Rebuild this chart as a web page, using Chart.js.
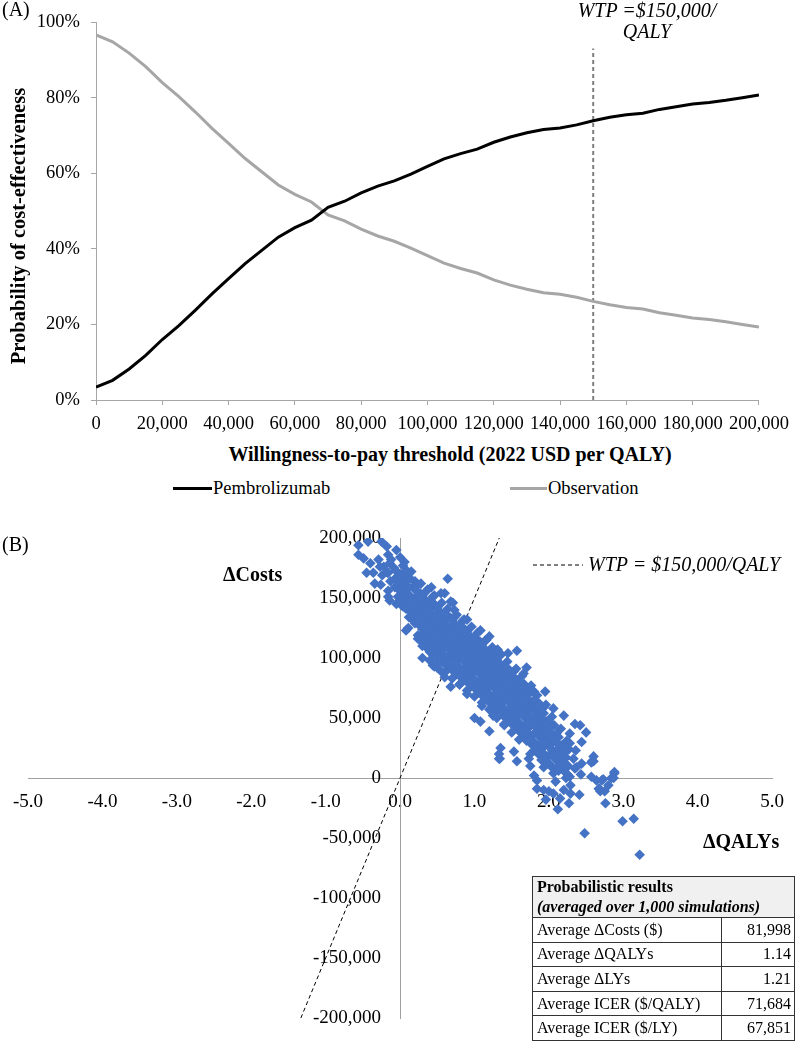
<!DOCTYPE html>
<html>
<head>
<meta charset="utf-8">
<script src="https://cdn.jsdelivr.net/npm/chart.js@4"></script>
<style>
  html, body { margin: 0; padding: 0; background: #fff; overflow: hidden; }
  body { width: 797px; height: 1041px; position: relative; font-family: 'Liberation Serif', 'Times New Roman', serif; color: #000; }
  canvas { position: absolute; left: 0; }
  .lbl { position: absolute; white-space: nowrap; line-height: 23px; }
  .bold { font-weight: bold; }
  .ital { font-style: italic; }
  #psaTable { position: absolute; left: 532px; top: 876px; width: 263px; border-collapse: collapse; font-size: 16px; }
  #psaTable td { border: 1px solid #333; padding: 0 3px 0 4px; height: 23.6px; line-height: 20px; }
  #psaTable td.num { text-align: right; }
  #psaTable td.head { background: #f0f0f0; height: 39px; font-weight: bold; }
</style>
</head>
<body>
<canvas id="ceac" width="797" height="440" style="top:0"></canvas>
<canvas id="plane" width="797" height="521" style="top:520px"></canvas>

<div class="lbl" style="left:2px;top:-2px;font-size:20px">(A)</div>
<div class="lbl ital" style="left:547px;top:0;width:200px;text-align:center;font-size:20px;line-height:21px">WTP =$150,000/<br>QALY</div>
<div class="lbl bold" style="left:0;top:443px;width:900px;text-align:center;font-size:20px">Willingness-to-pay threshold (2022 USD per QALY)</div>
<div class="lbl bold" style="left:18px;top:226px;font-size:20.5px;transform:translate(-50%,-50%) rotate(-90deg)">Probability of cost-effectiveness</div>
<div style="position:absolute;left:173px;top:487px;width:39px;height:3px;background:#000"></div>
<div class="lbl" style="left:213px;top:477px;font-size:18.5px">Pembrolizumab</div>
<div style="position:absolute;left:510px;top:487px;width:37px;height:3px;background:#a6a6a6"></div>
<div class="lbl" style="left:548px;top:477px;font-size:18.5px">Observation</div>

<div class="lbl" style="left:2px;top:533px;font-size:20px">(B)</div>
<div class="lbl bold" style="left:223px;top:563px;font-size:20px">ΔCosts</div>
<svg style="position:absolute;left:533px;top:560px" width="50" height="10"><line x1="0" y1="5" x2="50" y2="5" stroke="#000" stroke-width="1" stroke-dasharray="4,3"/></svg>
<div class="lbl ital" style="left:588px;top:553px;font-size:20px">WTP = $150,000/QALY</div>
<div class="lbl bold" style="left:703px;top:830px;font-size:20px">ΔQALYs</div>

<table id="psaTable">
  <tr><td class="head" colspan="2">Probabilistic results<br><i>(averaged over 1,000 simulations)</i></td></tr>
</table>

<script>
// ---- panel A: acceptability curves ----
const wtpValues = [0, 5000, 10000, 15000, 20000, 25000, 30000, 35000, 40000, 45000,
  50000, 55000, 60000, 65000, 70000, 75000, 80000, 85000, 90000, 95000,
  100000, 105000, 110000, 115000, 120000, 125000, 130000, 135000, 140000, 145000,
  150000, 155000, 160000, 165000, 170000, 175000, 180000, 185000, 190000, 195000, 200000];
const pembrolizumabPct = [3.4, 5.2, 8.2, 11.8, 16.0, 19.7, 23.8, 28.1, 32.1, 36.1,
  39.6, 43.1, 45.6, 47.6, 51.0, 52.6, 54.8, 56.6, 58.0, 59.8,
  61.8, 63.8, 65.2, 66.4, 68.2, 69.6, 70.7, 71.6, 72.0, 72.8,
  73.9, 74.8, 75.5, 75.9, 76.9, 77.6, 78.3, 78.7, 79.3, 80.0, 80.7];
const observationPct = [96.6, 94.8, 91.8, 88.2, 84.0, 80.3, 76.2, 71.9, 67.9, 63.9,
  60.4, 56.9, 54.4, 52.4, 49.0, 47.4, 45.2, 43.4, 42.0, 40.2,
  38.2, 36.2, 34.8, 33.6, 31.8, 30.4, 29.3, 28.4, 28.0, 27.2,
  26.1, 25.2, 24.5, 24.1, 23.1, 22.4, 21.7, 21.3, 20.7, 20.0, 19.3];
const wtpThreshold = 150000;
const wtpMarkerTopPct = 93;

// ---- panel B: incremental cost-effectiveness plane, [dQALY, dCost in $1000] ----
const psaPoints = [
  // sparse upper-left part of the cloud
  [-0.56,194],[-0.43,197],[-0.56,186],[-0.49,183],[-0.40,179],[-0.18,193],[-0.16,186],[-0.12,182],
  [-0.29,182],[-0.36,171],[-0.45,171],[-0.34,162],[-0.16,171],[-0.07,166],[-0.16,151],[-0.14,148],
  [0.06,180],[0.08,173],[0.04,165],[0.11,159],[0.02,144],[-0.03,158],[0.15,172],[0.20,164],
  [0.28,162],[0.37,157],[0.33,148],[0.44,146],[0.46,152],[0.64,166],[0.60,154],[0.68,147],
  [0.11,125],[0.24,129],[0.35,109],[0.46,115],[0.44,94],[0.20,137],[0.15,141],[0.55,137],
  [0.73,140],[0.82,126],[0.91,118],[0.77,107],[0.64,101],[-0.25,197],[-0.05,190],[0.00,184],
  [-0.22,176],[-0.08,175],[0.42,159],[0.55,154],[0.71,146],[0.73,134],[0.86,132],[1.08,123],
  [1.15,115],[1.31,107],[1.57,106],[1.35,93],[1.53,89],[1.66,87],[1.80,72],[1.93,59],
  [2.06,58],[2.42,44],[2.28,37],[2.44,30],[2.60,18],[2.58,14],[2.88,4],[2.84,0],
  [2.73,-1],[1.00,50],[1.08,47],[1.20,39],[1.35,25],[1.33,16],[0.68,76],[0.55,89],
  [0.46,93],[0.42,106],[0.31,112],[0.24,116],[0.08,123],[0.12,134],[0.04,143],
  // lower-right tail
  [2.48,-46],[2.99,-36],[3.14,-34],[3.22,-64],[2.12,-26],[2.76,-21],[2.27,-21],[2.41,-14],
  [2.88,5],[2.87,0],[2.57,13],[2.44,12],[2.43,3],[2.64,-2],[2.68,-9],[2.80,-6],
  [2.69,-11],[1.34,16],[1.33,20],[1.84,-9],[2.00,-11],[2.29,-6],[2.29,-13],[2.15,-17],
  [1.96,-18],[1.57,14],[1.75,10],[1.80,2],[2.09,-3],[2.23,0],[2.35,8],[1.53,22],
  [1.73,16],[1.93,9],[2.06,4],[2.28,1],[2.06,-13],[2.20,-10],[1.93,-10],[1.84,-2],
  [2.28,29],[2.60,14],[2.57,1],[2.71,-2],[2.75,-11],[2.67,-9],
  // dense core of the cloud
  [-0.27,176],[-0.24,169],[-0.26,161],[-0.14,179],[-0.17,171],[-0.13,164],[-0.16,156],
  [-0.06,173],[-0.04,166],[-0.07,159],[-0.03,151],[-0.05,145],
  [0.04,177],[0.07,169],[0.03,162],[0.06,155],[0.05,148],[0.08,141],
  [0.14,166],[0.17,159],[0.13,152],[0.16,145],[0.15,138],[0.18,131],
  [0.24,161],[0.27,154],[0.23,147],[0.26,140],[0.25,133],[0.28,126],[0.24,119],
  [0.36,156],[0.33,149],[0.37,142],[0.34,135],[0.36,128],[0.33,121],[0.35,114],
  [0.44,151],[0.47,144],[0.43,137],[0.46,130],[0.45,123],[0.48,116],[0.44,109],[0.46,102],
  [0.56,146],[0.53,139],[0.57,132],[0.54,125],[0.56,118],[0.53,111],[0.55,104],[0.57,97],
  [0.64,141],[0.67,134],[0.63,127],[0.66,120],[0.65,113],[0.68,106],[0.64,99],[0.66,92],
  [0.76,136],[0.73,129],[0.77,122],[0.74,115],[0.76,108],[0.73,101],[0.75,94],[0.77,87],
  [0.84,131],[0.87,124],[0.83,117],[0.86,110],[0.85,103],[0.88,96],[0.84,89],[0.86,82],
  [0.96,126],[0.93,119],[0.97,112],[0.94,105],[0.96,98],[0.93,91],[0.95,84],[0.97,77],
  [1.04,121],[1.07,114],[1.03,107],[1.06,100],[1.05,93],[1.08,86],[1.04,79],[1.06,72],
  [1.16,115],[1.13,108],[1.17,101],[1.14,94],[1.16,87],[1.13,80],[1.15,73],[1.17,66],
  [1.24,109],[1.27,102],[1.23,95],[1.26,88],[1.25,81],[1.28,74],[1.24,67],[1.26,60],
  [1.36,103],[1.33,96],[1.37,89],[1.34,82],[1.36,75],[1.33,68],[1.35,61],[1.37,54],
  [1.44,97],[1.47,90],[1.43,83],[1.46,76],[1.45,69],[1.48,62],[1.44,55],[1.46,48],
  [1.56,91],[1.53,84],[1.57,77],[1.54,70],[1.56,63],[1.53,56],[1.55,49],[1.57,42],
  [1.64,85],[1.67,78],[1.63,71],[1.66,64],[1.65,57],[1.68,50],[1.64,43],[1.66,36],
  [1.76,77],[1.73,70],[1.77,63],[1.74,56],[1.76,49],[1.73,42],[1.75,35],[1.77,28],
  [1.84,69],[1.87,62],[1.83,55],[1.86,48],[1.85,41],[1.88,34],[1.84,27],[1.86,20],
  [1.96,61],[1.93,54],[1.97,47],[1.94,40],[1.96,33],[1.93,26],[1.95,19],[1.97,12],
  [2.04,51],[2.07,44],[2.03,37],[2.06,30],[2.05,23],[2.08,16],[2.04,9],
  [2.16,41],[2.13,34],[2.17,27],[2.14,20],[2.16,13],[2.13,6],
  [2.24,31],[2.27,24],[2.23,17],[2.26,10],[2.25,3],[2.36,23],[2.33,16],[2.37,9],
  [0.10,158],[0.10,151],[0.10,144],[0.20,150],[0.20,143],[0.20,136],[0.30,145],[0.30,138],
  [0.30,131],[0.30,124],[0.40,140],[0.40,133],[0.40,126],[0.40,119],[0.50,135],[0.50,128],
  [0.50,121],[0.50,114],[0.50,107],[0.60,130],[0.60,123],[0.60,116],[0.60,109],[0.60,102],
  [0.70,125],[0.70,118],[0.70,111],[0.70,104],[0.70,97],[0.80,120],[0.80,113],[0.80,106],
  [0.80,99],[0.80,92],[0.90,115],[0.90,108],[0.90,101],[0.90,94],[0.90,87],[1.00,110],
  [1.00,103],[1.00,96],[1.00,89],[1.00,82],[1.10,104],[1.10,97],[1.10,90],[1.10,83],
  [1.10,76],[1.20,98],[1.20,91],[1.20,84],[1.20,77],[1.20,70],[1.30,92],[1.30,85],
  [1.30,78],[1.30,71],[1.30,64],[1.40,86],[1.40,79],[1.40,72],[1.40,65],[1.40,58],
  [1.50,80],[1.50,73],[1.50,66],[1.50,59],[1.50,52],[1.60,74],[1.60,67],[1.60,60],
  [1.60,53],[1.60,46],[1.70,66],[1.70,59],[1.70,52],[1.70,45],[1.70,38],[1.80,58],
  [1.80,51],[1.80,44],[1.80,37],[1.80,30],[1.90,50],[1.90,43],[1.90,36],[1.90,29],
  [1.90,22],[2.00,40],[2.00,33],[2.00,26],[2.00,19],[2.10,30],[2.10,23],[2.10,16],
  [2.20,20],[2.20,13],
  [0.00,170],[0.00,163],[0.00,156],[0.00,149],[0.10,165],[0.10,172],[0.20,157],[0.20,129],
  [0.30,152],[0.30,117],[0.30,110],[0.40,147],[0.40,112],[0.40,105],[0.40,98],[0.50,142],
  [0.50,100],[0.50,95],[0.60,137],[0.60,95],[0.60,88],[0.70,132],[0.70,90],[0.70,83],
  [0.80,127],[0.80,85],[0.80,78],[0.90,122],[0.90,80],[0.90,73],[1.00,117],[1.00,75],
  [1.00,68],[1.10,111],[1.10,69],[1.10,63],[1.20,105],[1.20,63],[1.20,57],[1.30,99],
  [1.30,57],[1.30,50],[1.40,93],[1.40,51],[1.40,44],[1.50,87],[1.50,45],[1.60,81],
  [1.60,39],[1.70,73],[1.70,31],[1.80,65],[1.80,23],[1.90,57],[1.90,15],[2.00,47],
  [2.00,12],[2.10,37],[2.10,9],[2.20,27],[2.20,6],
  [0.05,151],[0.15,148],[0.15,134],[0.25,143],[0.25,129],[0.35,138],[0.35,124],[0.35,117],
  [0.45,133],[0.45,119],[0.45,105],[0.55,128],[0.55,114],[0.55,100],[0.65,123],[0.65,109],
  [0.65,95],[0.75,118],[0.75,104],[0.75,90],[0.85,113],[0.85,99],[0.85,85],[0.95,108],
  [0.95,94],[0.95,80],[1.05,103],[1.05,89],[1.05,75],[1.15,97],[1.15,83],[1.15,69],
  [1.25,91],[1.25,77],[1.25,63],[1.35,85],[1.35,71],[1.35,57],[1.45,79],[1.45,65],
  [1.45,51],[1.55,73],[1.55,59],[1.55,45],[1.65,67],[1.65,53],[1.65,39],[1.75,59],
  [1.75,45],[1.75,31],[1.85,51],[1.85,37],[1.85,23],[1.95,43],[1.95,29],[1.95,15],
  [2.05,33],[2.05,19],[2.15,23],[2.15,9],
  // ragged edges
  [0.90,132],[1.20,118],[1.45,104],[1.70,92],[1.95,72],[2.20,52],[2.50,38],[2.35,45],
  [0.30,100],[0.60,84],[0.90,70],[1.10,60],[1.40,45],[1.60,32],[1.75,20],[0.50,92],
  [0.80,78],[1.25,52],[1.50,38]
];

// ---- summary table ----
const tableLabels = ['Average ΔCosts ($)', 'Average ΔQALYs', 'Average ΔLYs', 'Average ICER ($/QALY)', 'Average ICER ($/LY)'];
const tableValues = ['81,998', '1.14', '1.21', '71,684', '67,851'];

const tbl = document.getElementById('psaTable');
tableLabels.forEach((label, i) => {
    const tr = document.createElement('tr');
    tr.innerHTML = '<td style="width:181px">' + label + '</td><td class="num">' + tableValues[i] + '</td>';
    tbl.appendChild(tr);
});

Chart.defaults.font.family = "'Liberation Serif', 'Times New Roman', serif";
Chart.defaults.color = '#000';

const axisGrey = '#a6a6a6';

new Chart(document.getElementById('ceac'), {
    type: 'line',
    data: {
        datasets: [
            {
                label: 'Pembrolizumab',
                data: wtpValues.map((w, i) => ({ x: w, y: pembrolizumabPct[i] })),
                borderColor: '#000000',
                borderWidth: 3,
                pointRadius: 0,
                tension: 0
            },
            {
                label: 'Observation',
                data: wtpValues.map((w, i) => ({ x: w, y: observationPct[i] })),
                borderColor: '#a6a6a6',
                borderWidth: 3,
                pointRadius: 0,
                tension: 0
            },
            {
                label: 'WTP',
                data: [{ x: wtpThreshold, y: 0 }, { x: wtpThreshold, y: wtpMarkerTopPct }],
                borderColor: '#7f7f7f',
                borderWidth: 2,
                borderDash: [4, 3],
                pointRadius: 0
            }
        ]
    },
    options: {
        responsive: false,
        animation: false,
        layout: { padding: { top: 21, right: 30, left: 0, bottom: 0 } },
        plugins: { legend: { display: false }, tooltip: { enabled: false } },
        scales: {
            x: {
                type: 'linear',
                min: 0,
                max: 200000,
                ticks: {
                    stepSize: 20000,
                    autoSkip: false,
                    maxRotation: 0,
                    padding: 8,
                    font: { size: 18.5 },
                    callback: (v) => v.toLocaleString('en-US')
                },
                grid: { drawOnChartArea: false, drawTicks: true, tickLength: 5, color: axisGrey },
                border: { color: axisGrey, width: 1 },
                afterFit: (s) => { s.height = 40; }
            },
            y: {
                min: 0,
                max: 100,
                ticks: {
                    stepSize: 20,
                    padding: 11,
                    font: { size: 18.5 },
                    callback: (v) => v + '%'
                },
                grid: { drawOnChartArea: false, drawTicks: true, tickLength: 5, color: axisGrey },
                border: { color: axisGrey, width: 1 },
                afterFit: (s) => { s.width = 96; }
            }
        }
    }
});

new Chart(document.getElementById('plane'), {
    type: 'scatter',
    data: {
        datasets: [
            {
                label: 'Simulations',
                data: psaPoints.map((p) => ({ x: p[0], y: p[1] * 1000 })),
                pointStyle: 'rectRot',
                pointRadius: 5.3,
                pointBackgroundColor: '#4472c4',
                pointBorderColor: '#4472c4',
                pointBorderWidth: 0,
                order: 1
            },
            {
                label: 'WTP = $150,000/QALY',
                data: [{ x: -200000 / wtpThreshold, y: -200000 }, { x: 200000 / wtpThreshold, y: 200000 }],
                showLine: true,
                borderColor: '#000000',
                borderWidth: 1,
                borderDash: [4, 3],
                pointRadius: 0,
                order: 2
            }
        ]
    },
    options: {
        responsive: false,
        animation: false,
        layout: { padding: { top: 18, right: 20, left: 26, bottom: 23 } },
        plugins: { legend: { display: false }, tooltip: { enabled: false } },
        scales: {
            x: {
                type: 'linear',
                position: { y: 0 },
                min: -5,
                max: 5,
                ticks: {
                    stepSize: 1,
                    autoSkip: false,
                    maxRotation: 0,
                    padding: 13,
                    font: { size: 19 },
                    callback: (v) => v.toFixed(1)
                },
                grid: { display: false, drawTicks: false },
                border: { color: '#a0a0a0', width: 1 }
            },
            y: {
                position: { x: 0 },
                min: -200000,
                max: 200000,
                ticks: {
                    stepSize: 50000,
                    font: { size: 19 },
                    // labels sit left of the centred axis; en-spaces keep them off the line
                    callback: (v) => v.toLocaleString('en-US') + '\u2002\u2002'
                },
                grid: { display: false, drawTicks: false },
                border: { color: '#a0a0a0', width: 1 }
            }
        }
    }
});
</script>
</body>
</html>
